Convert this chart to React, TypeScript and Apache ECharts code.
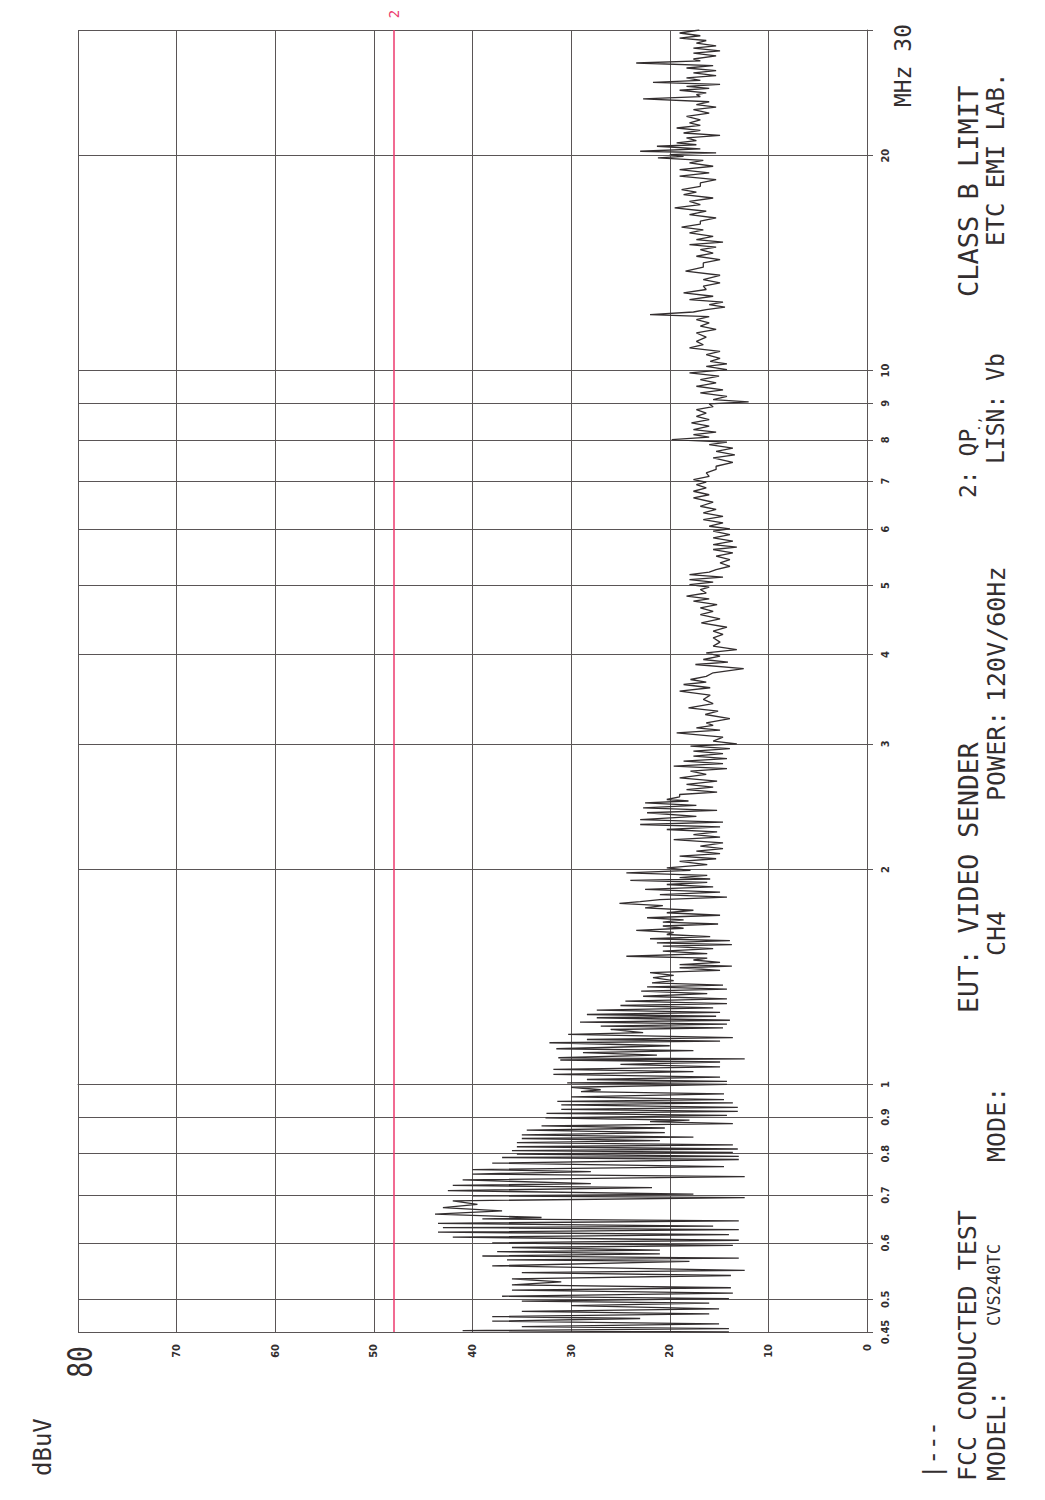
import React, { useEffect, useRef } from "react";
import * as echarts from "echarts";

// Amplitude axis (dBuV) and frequency axis (MHz) ticks
const DB_TICKS = [0, 10, 20, 30, 40, 50, 60, 70, 80];
const FREQ_TICKS = [0.45, 0.5, 0.6, 0.7, 0.8, 0.9, 1, 2, 3, 4, 5, 6, 7, 8, 9, 10, 20, 30];
const LIMIT_DB = 48; // "2: QP" class B limit

// Measured trace: [frequency MHz, level dBuV]
const trace045to1: [number, number][] = [
  [0.450, 14], [0.452, 41], [0.455, 14], [0.458, 35], [0.462, 15], [0.466, 38], [0.470, 23], [0.473, 38],
  [0.477, 16], [0.481, 35], [0.485, 15], [0.490, 30], [0.494, 16], [0.497, 35], [0.501, 14], [0.505, 37],
  [0.510, 13.6], [0.515, 36], [0.519, 13.8], [0.524, 36], [0.529, 31], [0.534, 36], [0.540, 13.8], [0.545, 35],
  [0.549, 12.4], [0.557, 38], [0.565, 18], [0.568, 36.5], [0.571, 13], [0.575, 39], [0.579, 21], [0.583, 37.5],
  [0.586, 21], [0.591, 36], [0.595, 13.6], [0.600, 38], [0.605, 13], [0.611, 42], [0.616, 14], [0.621, 43.5],
  [0.626, 13], [0.630, 43], [0.633, 15.6], [0.639, 43.5], [0.644, 13], [0.648, 39], [0.651, 33], [0.658, 43.8],
  [0.665, 37], [0.672, 43], [0.679, 39.5], [0.687, 42], [0.694, 12.4], [0.698, 40], [0.702, 17.6], [0.710, 42.5],
  [0.717, 21.8], [0.722, 42], [0.726, 28], [0.735, 41], [0.743, 12.4], [0.749, 40], [0.755, 28], [0.760, 40],
  [0.767, 14.5], [0.776, 38], [0.785, 13], [0.790, 37], [0.793, 13], [0.799, 35.5], [0.803, 13.6], [0.808, 36],
  [0.812, 13.1], [0.818, 35.5], [0.823, 13.6], [0.829, 35.5], [0.834, 21], [0.840, 35], [0.844, 17.6], [0.850, 35],
  [0.856, 20.5], [0.863, 34.5], [0.869, 20.5], [0.875, 33], [0.881, 13.6], [0.887, 22], [0.891, 18], [0.898, 32.6],
  [0.905, 14.2], [0.911, 32.5], [0.917, 13.1], [0.923, 31], [0.929, 13.1], [0.936, 31], [0.942, 13.6], [0.947, 31.4],
  [0.952, 14.5], [0.961, 30], [0.970, 14.5], [0.977, 29], [0.983, 27], [0.991, 30], [1.000, 14.2],
];

const trace1to2: [number, number][] = [
  [1.005, 30.4], [1.010, 14.2], [1.016, 28.4], [1.024, 14.9], [1.033, 31.8], [1.042, 17.6], [1.050, 31.8], [1.058, 14.9],
  [1.067, 25], [1.075, 14.9], [1.082, 31.1], [1.086, 12.4], [1.090, 31.3], [1.099, 21.3], [1.108, 28.8], [1.115, 17.6],
  [1.122, 31.5], [1.133, 20], [1.144, 32.2], [1.150, 14.9], [1.156, 28.4], [1.163, 13.6], [1.175, 30.3], [1.182, 22.7],
  [1.194, 26], [1.200, 14.6], [1.207, 27], [1.215, 14.2], [1.223, 29.1], [1.230, 13.9], [1.240, 27.4], [1.246, 15.3],
  [1.253, 28.4], [1.262, 14.9], [1.271, 27.4], [1.280, 15.6], [1.290, 25], [1.298, 14.2], [1.308, 24.5], [1.318, 14.2],
  [1.329, 22.7], [1.340, 16.2], [1.351, 22.9], [1.360, 14.2], [1.370, 22.3], [1.378, 14.6], [1.388, 21.8], [1.398, 19.6],
  [1.411, 21.7], [1.422, 19.6], [1.434, 22.0], [1.445, 14.9], [1.457, 19.0], [1.465, 13.7], [1.472, 19.0], [1.483, 14.9],
  [1.494, 17.6], [1.503, 16.2], [1.512, 24.4], [1.525, 16.2], [1.537, 20.7], [1.550, 15.6], [1.562, 20.7], [1.570, 13.7],
  [1.579, 21.3], [1.590, 13.9], [1.600, 22.0], [1.611, 15.9], [1.622, 20.3], [1.633, 19.6], [1.644, 23.4], [1.655, 18.6],
  [1.667, 20.7], [1.678, 15.1], [1.688, 20.7], [1.700, 18.6], [1.712, 22.3], [1.726, 14.9], [1.740, 20.3], [1.754, 17.6],
  [1.768, 22.5], [1.780, 20.7], [1.793, 25.1], [1.804, 23.0], [1.815, 21.0], [1.830, 14.2], [1.845, 21.0], [1.860, 14.9],
  [1.876, 22.5], [1.891, 15.6], [1.906, 20.3], [1.919, 16.2], [1.932, 24.0], [1.940, 15.9], [1.948, 19.0], [1.963, 16.2],
  [1.979, 24.4], [1.995, 17.9], [2.011, 20.3], [2.032, 16.2], [2.054, 19.0], [2.071, 15.3],
];

const trace2to47: [number, number][] = [
  [2.088, 19.0], [2.105, 14.9], [2.122, 17.3], [2.140, 14.6], [2.157, 16.9], [2.180, 14.6], [2.203, 19.6], [2.220, 14.9],
  [2.239, 17.6], [2.258, 15.2], [2.276, 20.3], [2.295, 14.9], [2.313, 23.0], [2.330, 14.6], [2.350, 23.0], [2.375, 17.3],
  [2.402, 22.3], [2.420, 15.2], [2.441, 22.7], [2.460, 17.3], [2.480, 22.5], [2.495, 18.1], [2.507, 20.3], [2.528, 19.0],
  [2.548, 19.0], [2.568, 15.2], [2.589, 18.3], [2.610, 15.6], [2.632, 18.3], [2.660, 15.2], [2.689, 19.0], [2.718, 16.3],
  [2.747, 17.9], [2.770, 14.2], [2.792, 19.6], [2.815, 14.6], [2.837, 18.6], [2.860, 14.2], [2.884, 17.6], [2.907, 14.6],
  [2.930, 17.6], [2.955, 13.9], [2.978, 17.9], [3.000, 13.2], [3.026, 15.6], [3.065, 14.6], [3.109, 19.3], [3.135, 14.9],
  [3.159, 17.3], [3.185, 15.6], [3.211, 16.3], [3.255, 13.9], [3.298, 16.4], [3.335, 15.1], [3.370, 18.1], [3.415, 15.6],
  [3.462, 16.6], [3.510, 15.9], [3.556, 19.0], [3.595, 15.9], [3.633, 18.6], [3.660, 16.3], [3.692, 17.9], [3.730, 16.3],
  [3.773, 15.6], [3.825, 12.5], [3.875, 17.4], [3.905, 14.1], [3.938, 16.6], [3.980, 14.9], [4.024, 16.3], [4.065, 13.2],
  [4.111, 15.6], [4.165, 14.9], [4.224, 15.6], [4.270, 14.6], [4.314, 15.6], [4.370, 14.2], [4.432, 16.8], [4.490, 14.9],
  [4.553, 16.9], [4.600, 15.6], [4.652, 16.9], [4.700, 15.2],
];

const trace47to10: [number, number][] = [
  [4.753, 17.6], [4.790, 16.0], [4.830, 18.3], [4.880, 16.3], [4.935, 16.9], [4.975, 16.0], [5.015, 18.0], [5.055, 15.6],
  [5.096, 18.0], [5.135, 14.6], [5.179, 18.0], [5.220, 16.0], [5.264, 15.3], [5.320, 13.9], [5.378, 14.9], [5.435, 13.9],
  [5.495, 15.3], [5.555, 13.6], [5.615, 15.6], [5.660, 13.2], [5.706, 15.6], [5.770, 13.6], [5.830, 15.6], [5.890, 13.9],
  [5.957, 15.6], [6.000, 13.9], [6.053, 16.0], [6.120, 14.6], [6.185, 16.6], [6.250, 14.6], [6.319, 16.6], [6.390, 15.3],
  [6.456, 16.9], [6.540, 15.6], [6.631, 17.6], [6.700, 16.0], [6.776, 17.6], [6.850, 16.3], [6.923, 17.3], [6.980, 16.3],
  [7.036, 17.6], [7.110, 16.0], [7.189, 16.3], [7.270, 15.3], [7.345, 15.3], [7.440, 13.6], [7.544, 15.6], [7.620, 13.4],
  [7.708, 15.3], [7.790, 13.6], [7.876, 16.0], [7.940, 14.2], [8.004, 19.8], [8.070, 16.0], [8.135, 17.6], [8.200, 15.3],
  [8.268, 17.6], [8.360, 16.0], [8.448, 17.8], [8.540, 16.0], [8.630, 17.3], [8.720, 16.3], [8.818, 17.3], [8.900, 15.6],
  [8.981, 16.0], [9.040, 12.0], [9.108, 15.6], [9.200, 14.2], [9.306, 16.9], [9.400, 14.6], [9.507, 17.3], [9.610, 15.3],
  [9.714, 16.9], [9.820, 15.0], [9.925, 18.0], [10.03, 14.2], [10.14, 16.3], [10.22, 14.2], [10.30, 15.9], [10.40, 14.9],
];

const trace10to20: [number, number][] = [
  [10.53, 16.3], [10.64, 14.9], [10.76, 18.0], [10.87, 16.6], [10.99, 17.3], [11.14, 16.3], [11.29, 17.3], [11.42, 15.3],
  [11.54, 16.9], [11.66, 16.0], [11.79, 17.3], [11.90, 16.0], [11.98, 22.0], [12.08, 17.6], [12.17, 16.3], [12.27, 14.4],
  [12.37, 16.0], [12.47, 14.6], [12.57, 18.0], [12.71, 15.6], [12.85, 18.6], [12.99, 16.3], [13.13, 16.6], [13.27, 14.9],
  [13.41, 16.6], [13.60, 14.9], [13.78, 18.4], [13.96, 16.6], [14.15, 16.6], [14.30, 14.9], [14.46, 17.3], [14.61, 15.6],
  [14.77, 16.9], [14.89, 15.3], [15.01, 18.0], [15.13, 14.6], [15.26, 17.3], [15.42, 15.6], [15.59, 18.0], [15.74, 16.6],
  [15.89, 18.8], [16.04, 16.9], [16.19, 16.9], [16.36, 15.3], [16.54, 18.0], [16.72, 16.3], [16.90, 19.5], [17.08, 16.9],
  [17.26, 18.0], [17.45, 15.6], [17.64, 18.6], [17.78, 17.3], [17.93, 18.8], [18.12, 16.9], [18.32, 16.9], [18.52, 15.3],
  [18.72, 19.0], [18.92, 16.0], [19.12, 19.0], [19.33, 15.6], [19.54, 18.0], [19.70, 16.6], [19.86, 21.2], [19.96, 18.6],
  [20.07, 20.0], [20.18, 15.3], [20.29, 23.0], [20.45, 16.9], [20.62, 21.3], [20.72, 17.3],
];

const trace20to30: [number, number][] = [
  [20.84, 19.3], [21.00, 17.3], [21.18, 18.3], [21.35, 14.9], [21.52, 18.6], [21.70, 16.9], [21.87, 19.3], [22.05, 16.9],
  [22.23, 18.0], [22.45, 16.9], [22.71, 18.3], [22.95, 16.0], [23.21, 17.6], [23.40, 15.3], [23.58, 17.3], [23.80, 16.0],
  [24.02, 22.7], [24.20, 16.9], [24.36, 17.3], [24.50, 16.3], [24.70, 19.0], [24.85, 16.0], [25.02, 18.3], [25.18, 14.9],
  [25.34, 21.7], [25.50, 16.9], [25.70, 18.3], [25.90, 15.3], [26.12, 17.6], [26.32, 15.3], [26.54, 18.3], [26.75, 15.6],
  [26.97, 23.4], [27.15, 16.9], [27.32, 17.6], [27.60, 15.3], [27.85, 17.6], [28.05, 14.9], [28.30, 17.6], [28.50, 15.3],
  [28.76, 17.3], [29.00, 16.3], [29.23, 19.0], [29.45, 16.9], [29.71, 19.0], [30.00, 17.0],
];

const TRACE = [...trace045to1, ...trace1to2, ...trace2to47, ...trace47to10, ...trace10to20, ...trace20to30];

const MONO = "'DejaVu Sans Mono', 'Liberation Mono', monospace";
const INK = "#332e2f";
const GRID = "#5a5556";
const LIMIT_RED = "#ec3a6e";
const R90 = Math.PI / 2;

export default function App() {
  const ref = useRef<HTMLDivElement>(null);

  useEffect(() => {
    const chart = echarts.init(ref.current!, null, { renderer: "svg" });
    const logTicks = FREQ_TICKS.map((f) => Math.log10(f));
    const freqLabel = (v: number) => {
      const f = Math.round(Math.pow(10, v) * 100) / 100;
      return f === 30 ? "" : String(f);
    };

    const txt = (text: string, x: number, y: number, size: number, align: string, extra: any = {}) => ({
      type: "text",
      x,
      y,
      rotation: R90,
      silent: true,
      style: {
        text,
        fill: INK,
        font: `${size}px ${MONO}`,
        align,
        verticalAlign: "middle",
        ...(extra.style || {}),
      },
      ...(extra.el || {}),
    });

    chart.setOption({
      animation: false,
      backgroundColor: "#ffffff",
      grid: { left: 78, right: 178, top: 30, bottom: 168 },
      xAxis: {
        type: "value",
        min: 0,
        max: 80,
        interval: 10,
        inverse: true,
        axisLine: { show: true, lineStyle: { color: GRID, width: 1 } },
        axisTick: { show: true, length: 4, lineStyle: { color: GRID } },
        splitLine: { show: true, lineStyle: { color: GRID, width: 1 } },
        axisLabel: {
          rotate: 90,
          margin: 12,
          color: INK,
          fontFamily: "'DejaVu Sans Condensed', 'DejaVu Sans', sans-serif",
          fontWeight: "bold",
          fontSize: 11,
          formatter: (v: number) => (v === 80 ? "" : String(v)),
        },
      },
      yAxis: {
        type: "value",
        position: "right",
        min: Math.log10(FREQ_TICKS[0]),
        max: Math.log10(FREQ_TICKS[FREQ_TICKS.length - 1]),
        axisLine: { show: true, lineStyle: { color: GRID, width: 1 } },
        axisTick: { show: true, customValues: logTicks, length: 6, lineStyle: { color: GRID } },
        splitLine: { show: true, lineStyle: { color: GRID, width: 1 } },
        axisLabel: {
          customValues: logTicks,
          rotate: 90,
          margin: 13,
          color: INK,
          fontFamily: "'DejaVu Sans Condensed', 'DejaVu Sans', sans-serif",
          fontWeight: "bold",
          fontSize: 11,
          formatter: freqLabel,
        },
      },
      series: [
        {
          type: "line",
          data: TRACE.map(([f, db]) => [db, Math.log10(f)]),
          showSymbol: false,
          silent: true,
          lineStyle: { color: INK, width: 1.3 },
          markLine: {
            silent: true,
            symbol: "none",
            label: { show: false },
            lineStyle: { color: LIMIT_RED, width: 1.5, type: "solid" },
            data: [{ xAxis: LIMIT_DB }],
          },
        },
      ],
      graphic: [
        // unit labels
        txt("dBuV", 43, 1476, 24, "left"),
        txt("80", 80, 1346, 33, "right", { el: { scaleX: 0.8 } }),
        txt("MHz 30", 903, 24, 23, "right"),
        txt("2", 394, 14, 14, "center", { style: { fill: LIMIT_RED } }),
        // legend marker
        txt("|---", 933, 1479, 24, "left"),
        // column 1
        txt("FCC CONDUCTED TEST", 967, 1481, 25, "left"),
        txt("EUT: VIDEO SENDER", 968, 1013, 27, "left", { el: { scaleX: 0.98 } }),
        txt("2: QP", 968, 498, 23, "left"),
        txt(".,", 975, 432, 13, "left"),
        txt("CLASS B LIMIT", 968, 297, 27, "left"),
        // column 2
        txt("MODEL:", 996, 1481, 25, "left"),
        txt("CVS240TC", 994, 1326, 17, "left"),
        txt("MODE:", 996, 1162, 25, "left"),
        txt("CH4", 996, 956, 25, "left"),
        txt("POWER:", 996, 801, 25, "left"),
        txt("120V/60Hz", 996, 702, 25, "left"),
        txt("LISN: Vb", 996, 464, 25, "left", { el: { scaleX: 0.92 } }),
        txt("ETC EMI LAB.", 996, 246, 24, "left"),
      ],
    });

    return () => chart.dispose();
  }, []);

  return (
    <div
      ref={ref}
      style={{ position: "absolute", left: 0, top: 0, width: 1045, height: 1500, background: "#fff" }}
    />
  );
}
